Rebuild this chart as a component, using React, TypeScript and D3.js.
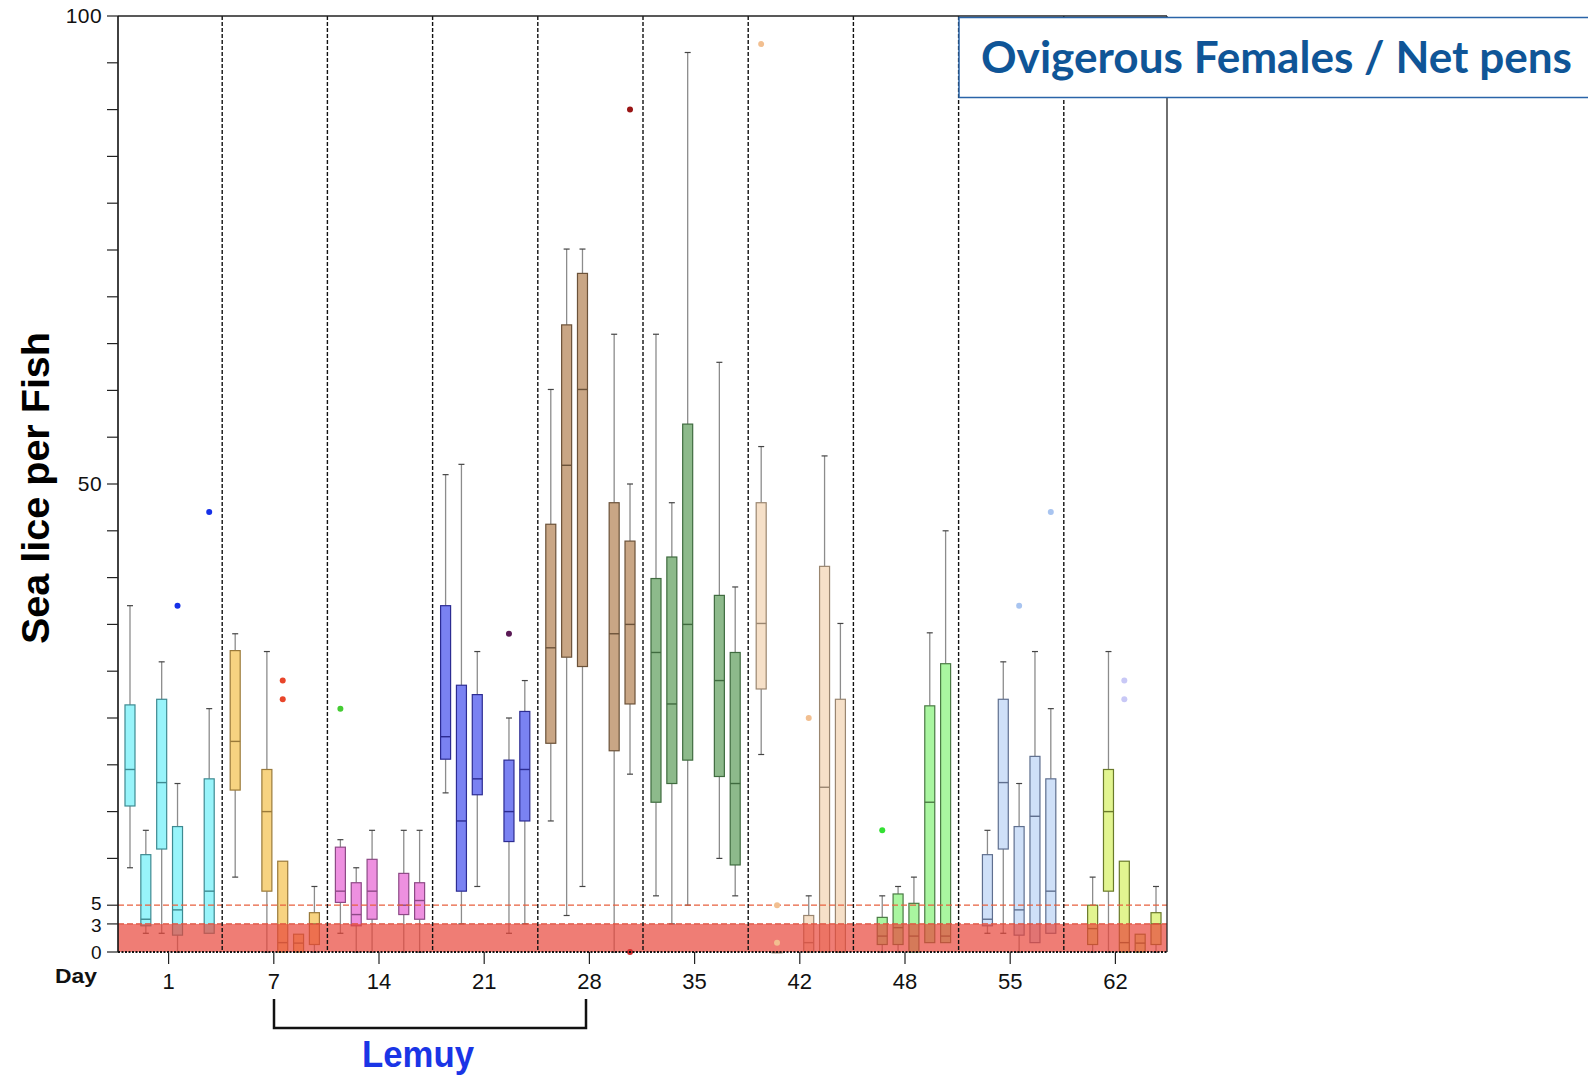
import React from "react";
import * as d3 from "d3";

// ---- data ----
const days = ["1", "7", "14", "21", "28", "35", "42", "48", "55", "62"];
const yTickLabels = [0, 3, 5, 50, 100];
const yMinorTicks = [10, 15, 20, 25, 30, 35, 40, 45, 55, 60, 65, 70, 75, 80, 85, 90, 95];
const redZoneMax = 3;
const warnLevel = 5;

// each entry: [slot, whiskerLow, q1, median, q3, whiskerHigh]
const day1 = [
  [0, 9, 15.6, 19.5, 26.4, 37],
  [1, 2, 2.8, 3.5, 10.4, 13],
  [2, 2, 11, 18.1, 27, 31],
  [3, 0, 1.8, 4.5, 13.4, 18],
  [5, 2, 2, 6.5, 18.5, 26],
];
const day7 = [
  [0, 8, 17.3, 22.5, 32.2, 34],
  [2, 0, 6.5, 15, 19.5, 32.1],
  [3, 0, 0, 1, 9.7, 9.7],
  [4, 0, 0, 0.95, 1.9, 1.9],
  [5, 0, 0.8, 3, 4.2, 7],
];
const day14 = [
  [0, 2, 5.3, 6.5, 11.2, 12],
  [1, 0, 2.8, 4, 7.4, 9],
  [2, 0, 3.5, 6.5, 9.9, 13],
  [4, 0, 4, 5, 8.4, 13],
  [5, 0, 3.5, 5.5, 7.4, 13],
];
const day21 = [
  [0, 17, 20.6, 23, 37, 51],
  [1, 3, 6.5, 14, 28.5, 52.1],
  [2, 7, 16.8, 18.5, 27.5, 32.1],
  [4, 2, 11.8, 15, 20.5, 25],
  [5, 3, 14, 19.5, 25.7, 29],
];
const day28 = [
  [0, 14, 22.3, 32.5, 45.7, 60.1],
  [1, 3.9, 31.5, 52, 67, 75.1],
  [2, 7, 30.5, 60.1, 72.5, 75.1],
  [4, 0, 21.5, 34, 48, 66],
  [5, 19, 26.5, 35, 43.9, 50],
];
const day35 = [
  [0, 6, 16, 32, 39.9, 66],
  [1, 3, 18, 26.5, 42.2, 48],
  [2, 5, 20.5, 35, 56.4, 96.1],
  [4, 10, 18.75, 29, 38.1, 63],
  [5, 6, 9.3, 18, 32, 39],
];
const day42 = [
  [0, 21.1, 28.1, 35.1, 48, 54],
  [1, 0, 0, 0, 0, 0],
  [3, 0, 0, 1, 3.9, 6],
  [4, 0, 0, 17.6, 41.2, 53],
  [5, 0, 0, 0, 27, 35.1],
];
const day48 = [
  [1, 0, 0.8, 1.7, 3.7, 6],
  [2, 0, 0.8, 2.6, 6.2, 7],
  [3, 0, 0, 1.7, 5.2, 8],
  [4, 1, 1, 16, 26.3, 34.1],
  [5, 1, 1, 1.7, 30.8, 45],
];
const day55 = [
  [1, 2, 2.8, 3.5, 10.4, 13],
  [2, 2, 11, 18.1, 27, 31],
  [3, 0, 1.8, 4.5, 13.4, 18],
  [4, 1, 1, 14.5, 20.9, 32.1],
  [5, 2, 2, 6.5, 18.5, 26],
];
const day62 = [
  [1, 0, 0.8, 2.5, 5, 8],
  [2, 0, 6.5, 15, 19.5, 32.1],
  [3, 0, 0, 1, 9.7, 9.7],
  [4, 0, 0, 0.95, 1.9, 1.9],
  [5, 0, 0.8, 3, 4.2, 7],
];
const groupBoxes = [day1, day7, day14, day21, day28, day35, day42, day48, day55, day62];

// outliers: [group, slot, value]
const outliers = [
  [0, 3, 37], [0, 5, 47],
  [1, 3, 29], [1, 3, 27],
  [2, 0, 26],
  [3, 4, 34],
  [4, 5, 90], [4, 5, 0],
  [6, 0, 97], [6, 1, 5], [6, 1, 1], [6, 3, 25],
  [7, 1, 13],
  [8, 3, 37], [8, 5, 47],
  [9, 3, 29], [9, 3, 27],
];

// ---- styles ----
const fills = ["#98f4fa", "#f7d381", "#ee90e0", "#7a82f2", "#c9a685", "#8dba8b", "#f6e0c8", "#a9f6a0", "#cfe0f8", "#e2f590"];
const strokes = ["#3e8a91", "#9a7a3a", "#8d4a86", "#2c2c92", "#6b5239", "#3f6b3f", "#9a8670", "#4a7a44", "#5f6f8f", "#6a7a2a"];
const outlierColors = ["#1530e8", "#e8452a", "#44cc33", "#5a1a55", "#9a1515", "#555", "#f2bf90", "#33e033", "#a8c4f0", "#c8c8f6"];

const W = 1588;
const H = 1075;
const plotLeft = 118;
const plotRight = 1167;
const plotTop = 16;
const plotBottom = 952;

export default function App() {
  const y = d3.scaleLinear().domain([0, 100]).range([plotBottom, plotTop]);
  const xGroup = d3.scaleBand<string>().domain(days).range([117, 1169]);
  const xSlot = d3
    .scalePoint<number>()
    .domain([0, 1, 2, 3, 4, 5])
    .range([0, xGroup.bandwidth()])
    .padding(0.82);
  const boxW = 10;
  const capW = 6;
  const slotX = (g: number, s: number) => (xGroup(days[g]) as number) + (xSlot(s) as number);

  const separators = days.slice(1).map((d) => xGroup(d) as number);
  const labelShift = (t: number) => (t === 5 ? -1.6 : t === 3 ? 1.6 : 0);
  const labelSize = (t: number) => (t === 5 || t === 3 || t === 0 ? 19 : 21);

  return (
    <svg
      width={W}
      height={H}
      style={{ position: "absolute", left: 0, top: 0, background: "#fff" }}
      fontFamily="'Liberation Sans', Arial, sans-serif"
    >
      <rect x={0} y={0} width={W} height={H} fill="#fff" />

      {/* boxes */}
      {groupBoxes.map((boxes, g) =>
        boxes.map((b, i) => {
          const [s, lo, q1, med, q3, hi] = b;
          const cx = slotX(g, s);
          return (
            <g key={`b${g}-${i}`}>
              {hi > q3 && (
                <>
                  <line x1={cx} x2={cx} y1={y(q3)} y2={y(hi)} stroke="#8c8c8c" strokeWidth={1.3} />
                  <line x1={cx - capW / 2} x2={cx + capW / 2} y1={y(hi)} y2={y(hi)} stroke="#444" strokeWidth={1.2} />
                </>
              )}
              {lo < q1 && (
                <>
                  <line x1={cx} x2={cx} y1={y(q1)} y2={y(lo)} stroke="#8c8c8c" strokeWidth={1.3} />
                  <line x1={cx - capW / 2} x2={cx + capW / 2} y1={y(lo)} y2={y(lo)} stroke="#444" strokeWidth={1.2} />
                </>
              )}
              <rect
                x={cx - boxW / 2}
                y={y(q3)}
                width={boxW}
                height={Math.max(0.8, y(q1) - y(q3))}
                fill={fills[g]}
                stroke={strokes[g]}
                strokeWidth={1.2}
              />
              <line x1={cx - boxW / 2} x2={cx + boxW / 2} y1={y(med)} y2={y(med)} stroke={strokes[g]} strokeWidth={1.4} />
            </g>
          );
        })
      )}

      {/* red zone overlay */}
      <rect
        x={plotLeft}
        y={y(redZoneMax)}
        width={plotRight - plotLeft}
        height={y(0) - y(redZoneMax)}
        fill="#e8463a"
        opacity={0.7}
      />
      <line x1={plotLeft} x2={plotRight} y1={y(redZoneMax)} y2={y(redZoneMax)} stroke="#e0503c" strokeWidth={1.2} strokeDasharray="6 3" />
      <line x1={plotLeft} x2={plotRight} y1={y(warnLevel)} y2={y(warnLevel)} stroke="#e8603e" strokeWidth={1.2} strokeDasharray="6 3" />

      {/* outliers */}
      {outliers.map(([g, s, v], i) => (
        <circle key={`o${i}`} cx={slotX(g, s)} cy={y(v)} r={3} fill={g === 4 && v === 0 ? "#d42a2a" : outlierColors[g]} />
      ))}

      {/* group separators */}
      {separators.map((sx, i) => (
        <line key={`sep${i}`} x1={sx} x2={sx} y1={plotTop} y2={plotBottom} stroke="#111" strokeWidth={1.4} strokeDasharray="4 2" />
      ))}

      {/* frame */}
      <line x1={plotLeft} x2={plotRight} y1={plotTop} y2={plotTop} stroke="#222" strokeWidth={1.3} />
      <line x1={plotRight} x2={plotRight} y1={plotTop} y2={plotBottom} stroke="#222" strokeWidth={1.3} />
      <line x1={plotLeft} x2={plotRight} y1={plotBottom} y2={plotBottom} stroke="#111" strokeWidth={2} strokeDasharray="2 1.5" />
      <line x1={plotLeft} x2={plotLeft} y1={plotTop} y2={plotBottom} stroke="#111" strokeWidth={1.6} />

      {/* y ticks */}
      {yMinorTicks.map((t) => (
        <line key={`mt${t}`} x1={107} x2={plotLeft} y1={y(t)} y2={y(t)} stroke="#222" strokeWidth={1.2} />
      ))}
      {yTickLabels.map((t) => (
        <g key={`yt${t}`}>
          <line x1={107} x2={plotLeft} y1={y(t)} y2={y(t)} stroke="#222" strokeWidth={1.2} />
          <text
            x={102}
            y={y(t) + labelSize(t) * 0.35 + labelShift(t)}
            textAnchor="end"
            fontSize={labelSize(t)}
            letterSpacing={0.4}
            fill="#111"
          >
            {t}
          </text>
        </g>
      ))}

      {/* x ticks */}
      {days.map((d) => {
        const tx = (xGroup(d) as number) + xGroup.bandwidth() / 2 - 1;
        return (
          <g key={`xt${d}`}>
            <line x1={tx} x2={tx} y1={plotBottom} y2={964} stroke="#222" strokeWidth={1.2} />
            <text x={tx} y={989} textAnchor="middle" fontSize={22} fill="#111">
              {d}
            </text>
          </g>
        );
      })}
      <text x={55} y={983} fontSize={21} fontWeight="bold" textLength={42} lengthAdjust="spacingAndGlyphs" fill="#111">
        Day
      </text>

      {/* y title */}
      <text
        transform={`translate(49, 488) rotate(-90)`}
        textAnchor="middle"
        fontSize={39}
        fontWeight="bold"
        textLength={312}
        lengthAdjust="spacingAndGlyphs"
        fill="#000"
      >
        Sea lice per Fish
      </text>

      {/* Lemuy bracket */}
      <path d="M274,999 V1028 H586 V999" fill="none" stroke="#111" strokeWidth={2.5} />
      <text x={362} y={1067} fontSize={36} fontWeight="bold" textLength={112} lengthAdjust="spacingAndGlyphs" fill="#1a35e6">
        Lemuy
      </text>

      {/* title box */}
      <rect x={959} y={17.5} width={640} height={80} fill="#fff" stroke="#2a64a8" strokeWidth={1.5} />
      <text
        x={981}
        y={73}
        fontFamily="Lato, 'Open Sans', sans-serif"
        fontSize={44}
        fontWeight="bold"
        textLength={591}
        lengthAdjust="spacingAndGlyphs"
        fill="#0f5597"
      >
        Ovigerous Females / Net pens
      </text>
    </svg>
  );
}
